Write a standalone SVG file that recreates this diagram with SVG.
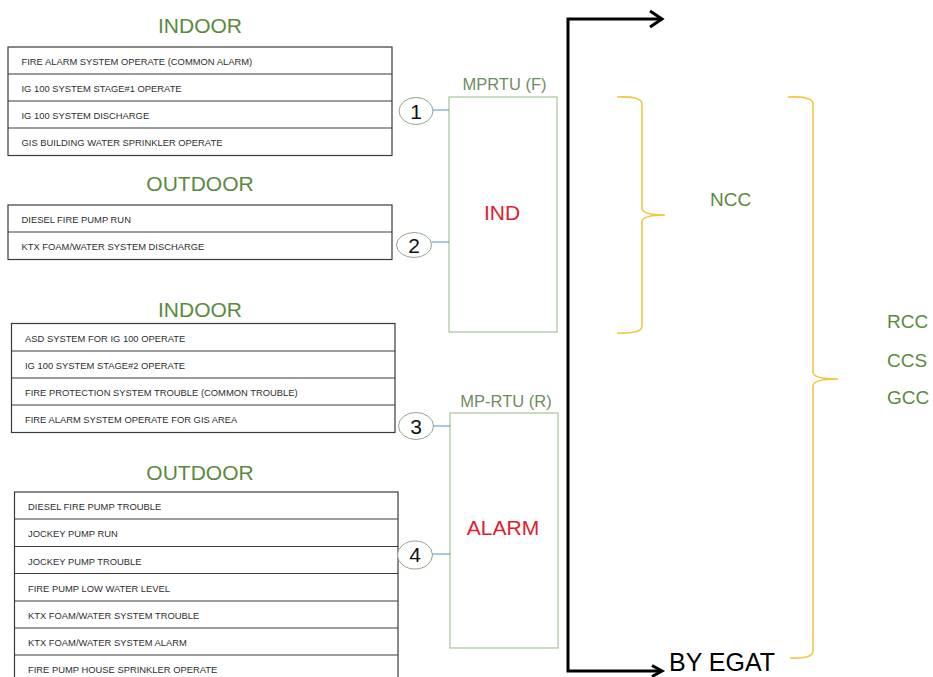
<svg xmlns="http://www.w3.org/2000/svg" width="933" height="677" viewBox="0 0 933 677">
  <style>
    .hdr { font-family: "Liberation Sans", Arial, sans-serif; font-size: 21px; fill: #5b8a3c; text-anchor: middle; }
    .row { font-family: "Liberation Sans", Arial, sans-serif; font-size: 9.4px; fill: #2e2e2e; }
    .tbl { fill: #ffffff; stroke: #3a3a3a; stroke-width: 1.2; }
    .div { stroke: #3a3a3a; stroke-width: 1.2; }
    .bubble { fill: #ffffff; stroke: #8ea88a; stroke-width: 1; }
    .num { font-family: "Liberation Sans", Arial, sans-serif; font-size: 21px; fill: #111111; text-anchor: middle; }
    .rtu { fill: #ffffff; stroke: #a9c29a; stroke-width: 1.2; }
    .rtulbl { font-family: "Liberation Sans", Arial, sans-serif; font-size: 16.5px; fill: #6f8c60; text-anchor: middle; }
    .sig { font-family: "Liberation Sans", Arial, sans-serif; font-size: 21px; fill: #e0202e; text-anchor: middle; }
    .link { stroke: #5b8fc0; stroke-width: 1; fill: none; }
    .bus { stroke: #000000; stroke-width: 3; fill: none; stroke-linejoin: miter; }
    .brace { stroke: #f3c644; stroke-width: 1.6; fill: none; }
    .cc { font-family: "Liberation Sans", Arial, sans-serif; font-size: 19px; fill: #5b8a3c; }
    .egat { font-family: "Liberation Sans", Arial, sans-serif; font-size: 25px; fill: #000000; }
  </style>
  <rect width="933" height="677" fill="#ffffff"/>

  <!-- Indoor signals, group 1 -->
  <g id="indoor-1">
    <text class="hdr" x="200" y="33">INDOOR</text>
    <rect class="tbl" x="8" y="47" width="384" height="108.5"/>
    <line class="div" x1="8" y1="74" x2="392" y2="74"/>
    <line class="div" x1="8" y1="101" x2="392" y2="101"/>
    <line class="div" x1="8" y1="128" x2="392" y2="128"/>
    <text class="row" x="21.5" y="65">FIRE ALARM SYSTEM OPERATE (COMMON ALARM)</text>
    <text class="row" x="21.5" y="92">IG 100 SYSTEM STAGE#1 OPERATE</text>
    <text class="row" x="21.5" y="119">IG 100 SYSTEM DISCHARGE</text>
    <text class="row" x="21.5" y="146">GIS BUILDING WATER SPRINKLER OPERATE</text>
  </g>

  <!-- Outdoor signals, group 2 -->
  <g id="outdoor-2">
    <text class="hdr" x="200" y="191">OUTDOOR</text>
    <rect class="tbl" x="8" y="205" width="384" height="54.5"/>
    <line class="div" x1="8" y1="232" x2="392" y2="232"/>
    <text class="row" x="21.5" y="223">DIESEL FIRE PUMP RUN</text>
    <text class="row" x="21.5" y="250">KTX FOAM/WATER SYSTEM DISCHARGE</text>
  </g>

  <!-- Indoor signals, group 3 -->
  <g id="indoor-3">
    <text class="hdr" x="200" y="317">INDOOR</text>
    <rect class="tbl" x="11.5" y="323.5" width="383.5" height="109"/>
    <line class="div" x1="11.5" y1="351" x2="395" y2="351"/>
    <line class="div" x1="11.5" y1="378" x2="395" y2="378"/>
    <line class="div" x1="11.5" y1="405" x2="395" y2="405"/>
    <text class="row" x="25" y="342">ASD SYSTEM FOR IG 100 OPERATE</text>
    <text class="row" x="25" y="369">IG 100 SYSTEM STAGE#2 OPERATE</text>
    <text class="row" x="25" y="396">FIRE PROTECTION SYSTEM TROUBLE (COMMON TROUBLE)</text>
    <text class="row" x="25" y="423">FIRE ALARM SYSTEM OPERATE FOR GIS AREA</text>
  </g>

  <!-- Outdoor signals, group 4 -->
  <g id="outdoor-4">
    <text class="hdr" x="200" y="480">OUTDOOR</text>
    <rect class="tbl" x="14.5" y="492" width="383.5" height="198"/>
    <line class="div" x1="14.5" y1="519" x2="398" y2="519"/>
    <line class="div" x1="14.5" y1="546.5" x2="398" y2="546.5"/>
    <line class="div" x1="14.5" y1="573.5" x2="398" y2="573.5"/>
    <line class="div" x1="14.5" y1="601" x2="398" y2="601"/>
    <line class="div" x1="14.5" y1="628" x2="398" y2="628"/>
    <line class="div" x1="14.5" y1="655" x2="398" y2="655"/>
    <text class="row" x="28" y="510">DIESEL FIRE PUMP TROUBLE</text>
    <text class="row" x="28" y="537">JOCKEY PUMP RUN</text>
    <text class="row" x="28" y="564.5">JOCKEY PUMP TROUBLE</text>
    <text class="row" x="28" y="591.5">FIRE PUMP LOW WATER LEVEL</text>
    <text class="row" x="28" y="619">KTX FOAM/WATER SYSTEM TROUBLE</text>
    <text class="row" x="28" y="646">KTX FOAM/WATER SYSTEM ALARM</text>
    <text class="row" x="28" y="673">FIRE PUMP HOUSE SPRINKLER OPERATE</text>
  </g>

  <!-- Numbered input bubbles -->
  <g id="bubble-1">
    <ellipse class="bubble" cx="416" cy="111" rx="17" ry="13.5"/>
    <text class="num" x="416" y="118.5">1</text>
  </g>
  <g id="bubble-2">
    <ellipse class="bubble" cx="414" cy="245" rx="17.5" ry="12.5"/>
    <text class="num" x="414" y="252.5">2</text>
  </g>
  <g id="bubble-3">
    <ellipse class="bubble" cx="416" cy="426" rx="17.5" ry="13.5"/>
    <text class="num" x="416" y="433.5">3</text>
  </g>
  <g id="bubble-4">
    <ellipse class="bubble" cx="415" cy="555" rx="17.5" ry="14"/>
    <text class="num" x="415" y="562">4</text>
  </g>

  <!-- Remote terminal units -->
  <g id="mprtu-f">
    <text class="rtulbl" x="504.5" y="90">MPRTU (F)</text>
    <rect class="rtu" x="449" y="97" width="108" height="235"/>
    <text class="sig" x="502" y="220">IND</text>
  </g>
  <g id="mprtu-r">
    <text class="rtulbl" x="506" y="407">MP-RTU (R)</text>
    <rect class="rtu" x="450" y="413" width="108" height="235"/>
    <text class="sig" x="503" y="535">ALARM</text>
  </g>

  <!-- Control centre groupings -->
  <g id="ncc">
    <path class="brace" d="M617 97 Q642 96 642 104 V208 Q642 215 665 215 Q642 215 642 222 V326 Q642 334 617 333"/>
    <text class="cc" x="710" y="206">NCC</text>
  </g>
  <g id="rcc-ccs-gcc">
    <path class="brace" d="M788 97 Q813 96 813 104 V372 Q813 379 838 379 Q813 379 813 386 V651 Q813 659 790 658"/>
    <text class="cc" x="887" y="328">RCC</text>
    <text class="cc" x="887" y="367">CCS</text>
    <text class="cc" x="887" y="404">GCC</text>
  </g>

  <g id="egat">
    <text class="egat" x="669" y="671">BY EGAT</text>
  </g>

  <!-- Connectors -->
  <g id="connectors">
    <line class="link" x1="433" y1="110" x2="449" y2="110"/>
    <line class="link" x1="431.5" y1="242" x2="449" y2="242"/>
    <line class="link" x1="433.5" y1="426" x2="450" y2="426"/>
    <line class="link" x1="432.5" y1="554" x2="450" y2="554"/>
    <path class="bus" d="M661 19 H568 V671 H660"/>
    <polyline class="bus" points="650,11 662,19 650,27"/>
    <polyline class="bus" points="652,665.5 662,671 652,676.5"/>
  </g>
</svg>
